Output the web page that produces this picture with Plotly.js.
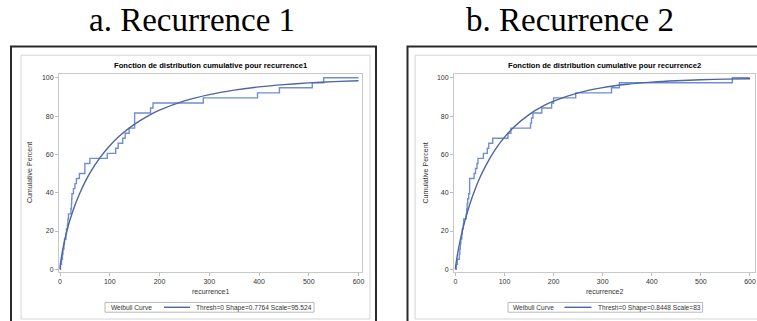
<!DOCTYPE html>
<html>
<head>
<meta charset="utf-8">
<script src="https://cdn.plot.ly/plotly-3.0.1.min.js"></script>
<style>html,body{margin:0;padding:0;background:#fff;}#chart{width:757px;height:321px;}</style>
</head>
<body>
<div id="chart"></div>
<script>
// ---- data ----
const panelTitles = ["a. Recurrence 1", "b. Recurrence 2"];
const chartTitles = ["Fonction de distribution cumulative pour recurrence1", "Fonction de distribution cumulative pour recurrence2"];
const xLabels = ["recurrence1", "recurrence2"];
const yLabel = "Cumulative Percent";
const legendTitle = "Weibull Curve";
const fitLabels = ["Thresh=0 Shape=0.7764 Scale=95.524", "Thresh=0 Shape=0.8448 Scale=83"];
const xTicks = [0, 100, 200, 300, 400, 500, 600];
const yTicks = [0, 20, 40, 60, 80, 100];

// empirical CDF steps (value, cumulative percent)
const rec1X = [0,1,3,5,6,8,9,12,13,15,16,17,22,23,23.5,24,27,30,33,39,50,60,95,112,117,126,131,139,150,182,187,288,397,441,507,530,600];
const rec1Y = [0,2.63,5.26,7.89,10.53,13.16,15.79,18.42,21.05,23.68,26.32,28.95,31.58,34.21,36.84,39.47,42.11,44.74,47.37,50,55.26,57.89,60.53,63.16,65.79,68.42,71.05,73.68,81.58,84.21,86.84,89.47,92.11,94.74,97.37,100,100];
const rec2X = [0,2,4,8,9,10,11,13,14,16,17,22,23,24,25,27,29,38,41,44,46,57,65,68,76,107,113,153,155,158,176,196,200,245,318,334,564,600];
const rec2Y = [0,2.63,5.26,7.89,10.53,13.16,15.79,18.42,21.05,23.68,26.32,28.95,31.58,34.21,36.84,39.47,47.37,50,52.63,55.26,57.89,60.53,63.16,65.79,68.42,71.05,73.68,76.32,78.95,81.58,84.21,86.84,89.47,92.11,94.74,97.37,100,100];

// fitted Weibull curves (cumulative percent)
const weibX = [0,1,2,5,10,15,20,30,40,50,60,80,100,120,150,180,200,250,300,350,400,450,500,550,600];
const weib1 = [0,2.86,4.85,9.62,15.92,21.15,25.70,33.43,39.87,45.39,50.19,58.16,64.52,69.69,75.82,80.51,83.05,87.89,91.21,93.55,95.22,96.42,97.31,97.96,98.45];
const weib2 = [0,2.36,4.21,8.90,15.41,21.00,25.96,34.51,41.71,47.89,53.25,62.07,68.98,74.47,80.77,85.39,87.78,92.10,94.83,96.57,97.71,98.46,98.95,99.29,99.51];

// ---- styling ----
const W = 757, H = 321;
const px = v => v / W, py = v => 1 - v / H;
const SANS = "Liberation Sans, Arial, sans-serif";
const SERIF = "Liberation Serif, Times New Roman, serif";
const stepColor = "#6f8fd0";
const curveColor = "#4d65a0";
const fs = 7;
const legFs = 6.6;

const traces = [
  {x: rec1X, y: rec1Y, mode: "lines", line: {shape: "hv", color: stepColor, width: 1.4}, xaxis: "x", yaxis: "y", showlegend: false, hoverinfo: "skip"},
  {x: weibX, y: weib1, mode: "lines", line: {shape: "spline", smoothing: 0.8, color: curveColor, width: 1.4}, xaxis: "x", yaxis: "y", showlegend: false, name: fitLabels[0]},
  {x: rec2X, y: rec2Y, mode: "lines", line: {shape: "hv", color: stepColor, width: 1.4}, xaxis: "x2", yaxis: "y2", showlegend: false, hoverinfo: "skip"},
  {x: weibX, y: weib2, mode: "lines", line: {shape: "spline", smoothing: 0.8, color: curveColor, width: 1.4}, xaxis: "x2", yaxis: "y2", showlegend: false, name: fitLabels[1]}
];

function xax(domain, anchor, range) {
  return {domain: domain, anchor: anchor, range: range, tickvals: xTicks, ticks: "outside", ticklen: 3,
    tickcolor: "#bdbdbd", showline: true, mirror: true, linecolor: "#c8c8c8", linewidth: 1,
    showgrid: false, zeroline: false, ticklabeloverflow: "allow", tickfont: {family: SANS, size: fs, color: "#333"}, fixedrange: true};
}
function yax(domain, anchor) {
  return {domain: domain, anchor: anchor, range: [-1.4, 101.8], tickvals: yTicks, ticks: "outside", ticklen: 3,
    tickcolor: "#bdbdbd", showline: true, mirror: true, linecolor: "#c8c8c8", linewidth: 1,
    showgrid: false, zeroline: false, tickfont: {family: SANS, size: fs, color: "#333"}, fixedrange: true};
}

const yDom = [py(272), py(74.3)];
const panels = [
  {plotL: 59, plotR: 362, outerL: 11, outerR: 376, innerL: 21, innerR: 370, ylabX: 30, ptX: 192, legL: 105, legR: 314, wcX: 131.5, lineL: 164, lineR: 190, fitX: 194},
  {plotL: 454, plotR: 755, outerL: 407.5, outerR: 770, innerL: 415, innerR: 765, ylabX: 425.5, ptX: 570, legL: 508, legR: 702.6, wcX: 533, lineL: 564.5, lineR: 591.5, fitX: 595.5}
];

const annotations = [];
const shapes = [];
panels.forEach((p, i) => {
  const cx = (p.plotL + p.plotR) / 2;
  annotations.push({xref: "paper", yref: "paper", x: px(p.ptX), y: py(20), text: panelTitles[i], showarrow: false,
    font: {family: SERIF, size: 33, color: "#000"}, xanchor: "center", yanchor: "middle"});
  annotations.push({xref: "paper", yref: "paper", x: px(cx), y: py(65), text: "<b>" + chartTitles[i] + "</b>", showarrow: false,
    font: {family: SANS, size: 7.6, color: "#000"}, xanchor: "center", yanchor: "middle"});
  annotations.push({xref: "paper", yref: "paper", x: px(cx), y: py(291), text: xLabels[i], showarrow: false,
    font: {family: SANS, size: fs, color: "#333"}, xanchor: "center", yanchor: "middle"});
  annotations.push({xref: "paper", yref: "paper", x: px(p.ylabX), y: py(173), text: yLabel, showarrow: false, textangle: -90,
    font: {family: SANS, size: fs, color: "#333"}, xanchor: "center", yanchor: "middle"});
  annotations.push({xref: "paper", yref: "paper", x: px(p.wcX), y: py(307.5), text: legendTitle, showarrow: false,
    font: {family: SANS, size: legFs, color: "#333"}, xanchor: "center", yanchor: "middle"});
  annotations.push({xref: "paper", yref: "paper", x: px(p.fitX), y: py(307.5), text: fitLabels[i], showarrow: false,
    font: {family: SANS, size: legFs, color: "#333"}, xanchor: "left", yanchor: "middle"});

  shapes.push({type: "rect", xref: "paper", yref: "paper", x0: px(p.outerL), x1: px(p.outerR), y0: py(340), y1: py(46.5),
    line: {color: "#2a2a2a", width: 2}, layer: "below"});
  shapes.push({type: "rect", xref: "paper", yref: "paper", x0: px(p.innerL), x1: px(p.innerR), y0: py(319), y1: py(55.2),
    line: {color: "#d4d4d4", width: 1}, layer: "below"});
  shapes.push({type: "rect", xref: "paper", yref: "paper", x0: px(p.legL), x1: px(p.legR), y0: py(312.2), y1: py(302.4),
    line: {color: "#b8b8b8", width: 1}, layer: "below"});
  shapes.push({type: "line", xref: "paper", yref: "paper", x0: px(p.lineL), x1: px(p.lineR), y0: py(307.3), y1: py(307.3),
    line: {color: curveColor, width: 1.4}});
});

const layout = {
  width: W, height: H, margin: {l: 0, r: 0, t: 0, b: 0},
  paper_bgcolor: "#fff", plot_bgcolor: "#fff", showlegend: false,
  xaxis: xax([px(59), px(362)], "y", [-2, 607]),
  yaxis: yax(yDom, "x"),
  xaxis2: xax([px(454), px(755)], "y2", [-2.85, 610.2]),
  yaxis2: yax(yDom, "x2"),
  annotations: annotations, shapes: shapes
};

Plotly.newPlot("chart", traces, layout, {staticPlot: true, displayModeBar: false});
</script>
</body>
</html>
